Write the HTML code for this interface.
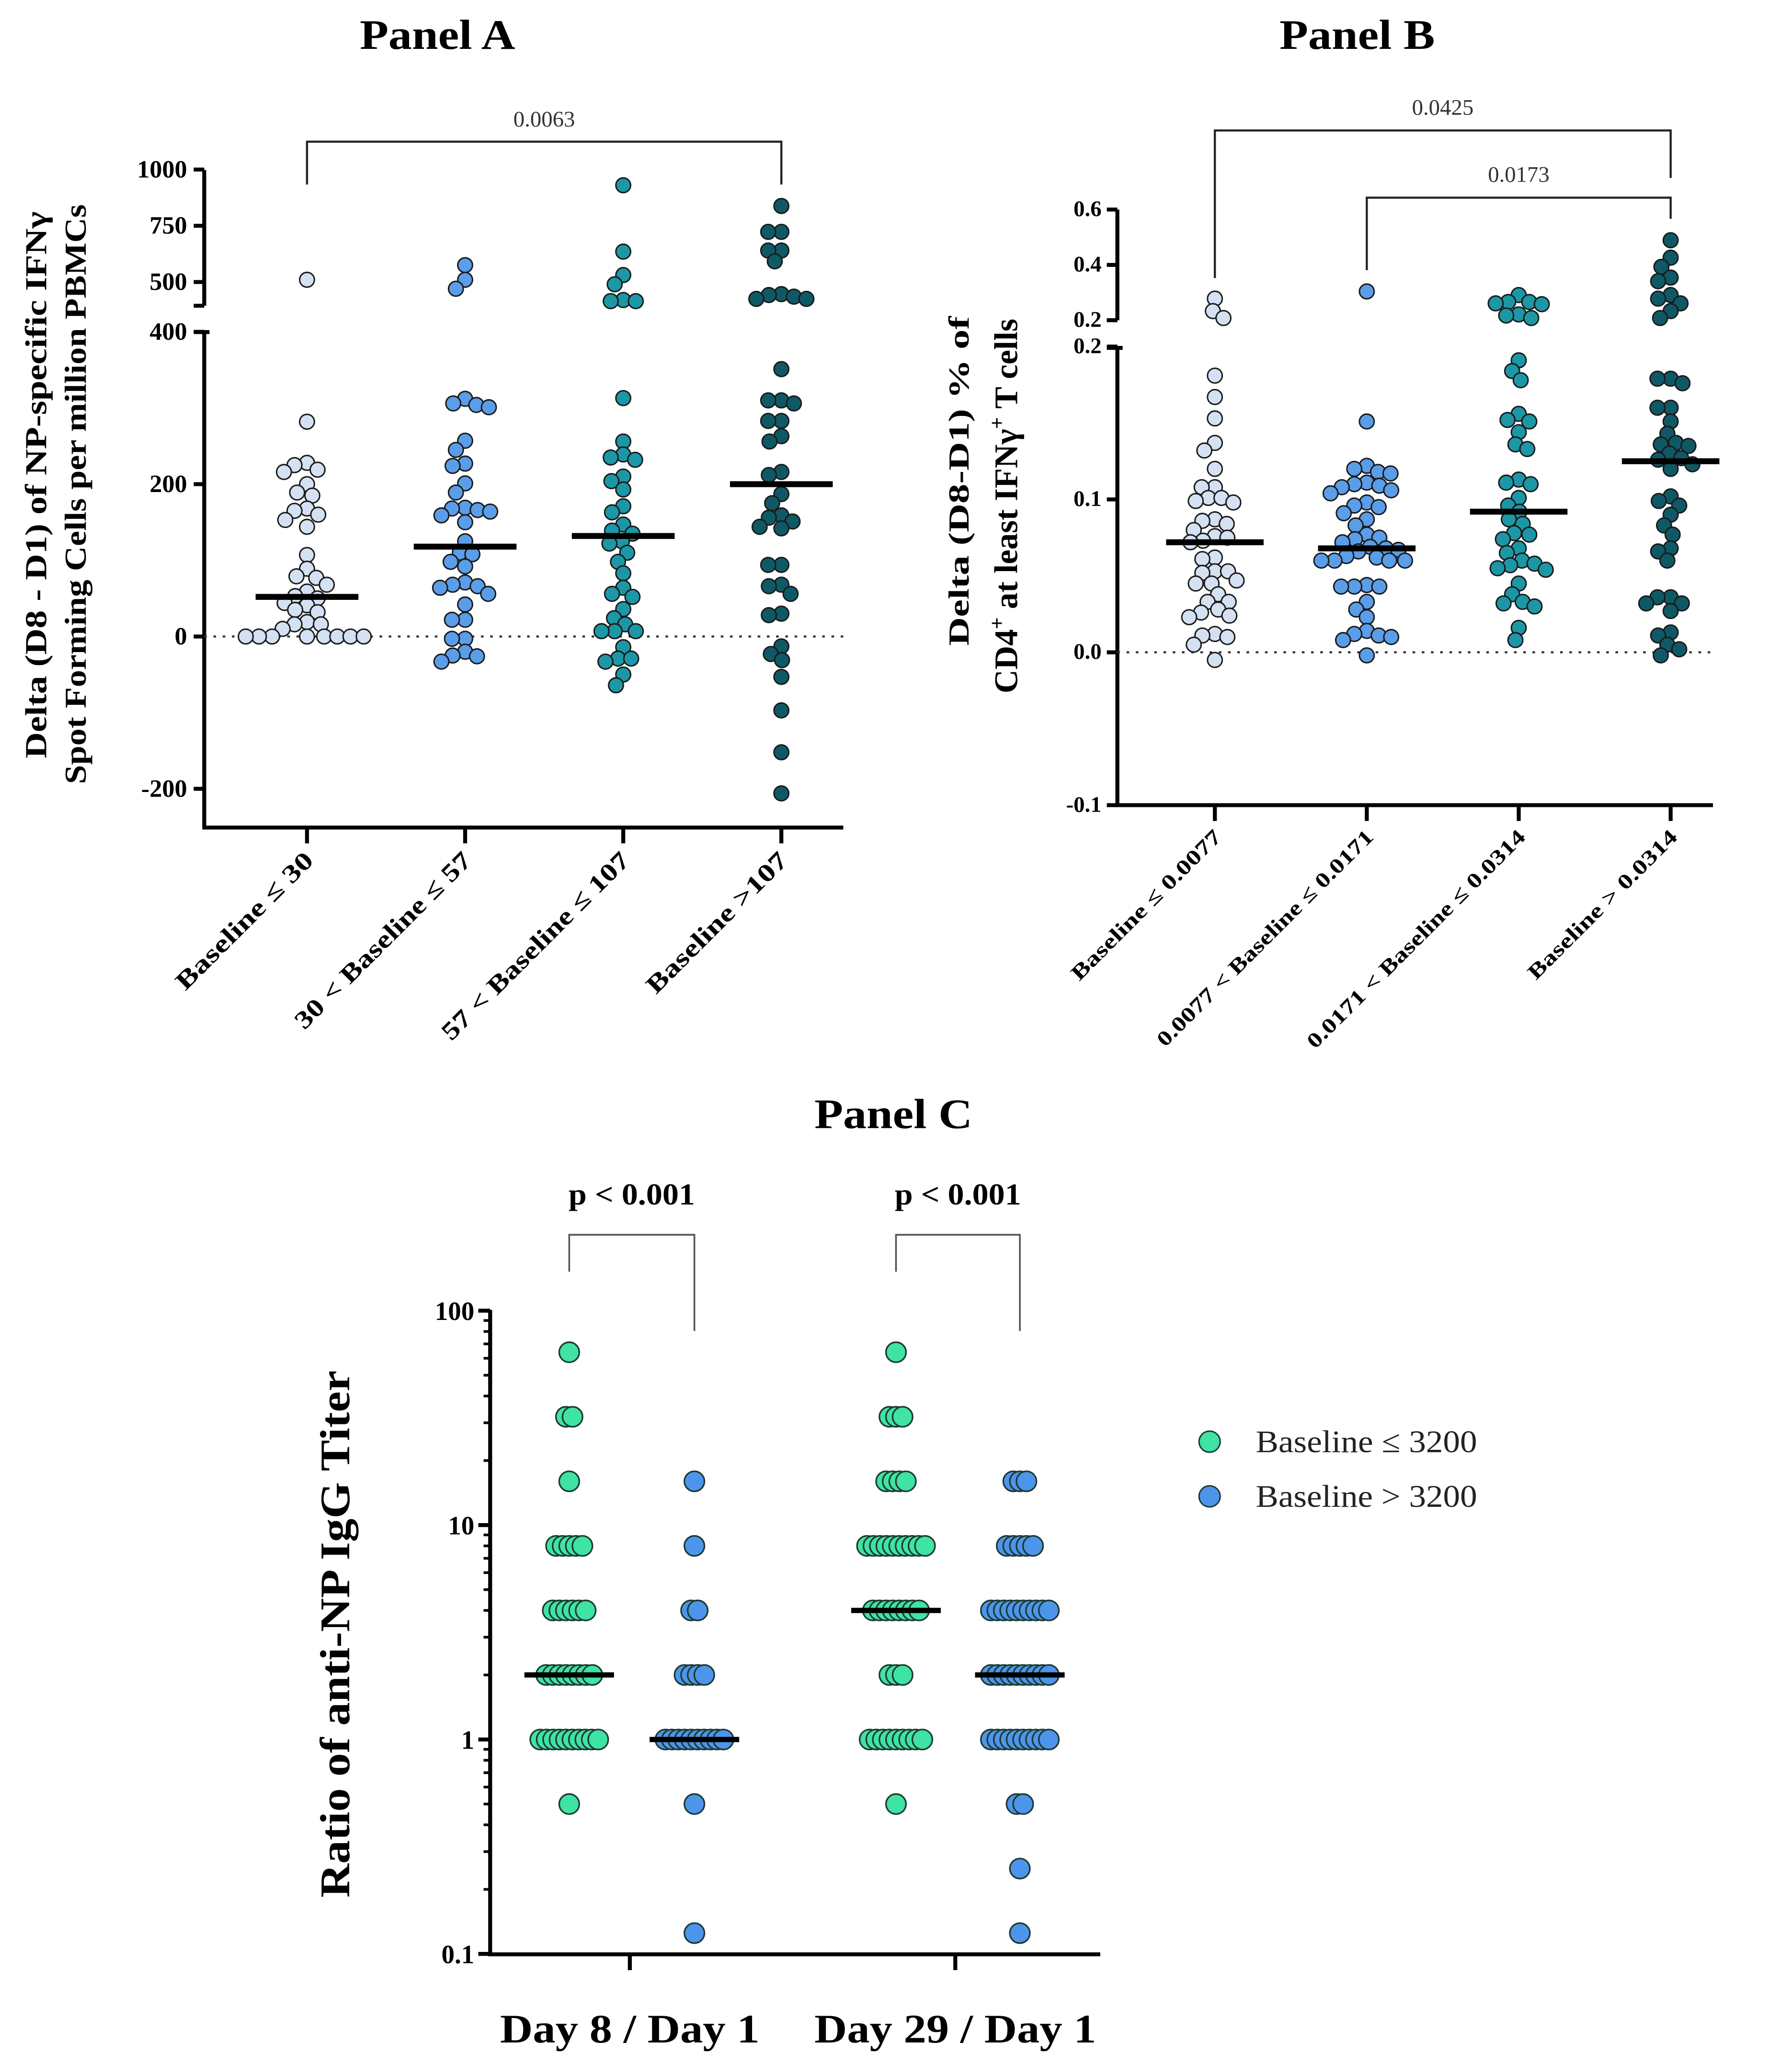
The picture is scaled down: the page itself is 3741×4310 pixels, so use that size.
<!DOCTYPE html>
<html><head><meta charset="utf-8"><style>
html,body{margin:0;padding:0;background:#fff;}
svg{display:block;}
text{font-family:"Liberation Serif",serif;}
</style></head><body>
<svg id="fig" width="3741" height="4310" viewBox="0 0 1360 1567" preserveAspectRatio="none" xmlns="http://www.w3.org/2000/svg">
<rect x="0" y="0" width="1360" height="1567" fill="#fff"/>
<g id="panelA"></g>
<g id="panelB"></g>
<g id="panelC"></g>
</svg>
<script>
// ---------- Panel A data ----------
const catsA = ["Baseline \u2264 30", "30 < Baseline \u2264 57", "57 < Baseline \u2264 107", "Baseline >107"];
const a1 = [510,282,228,225,219,216,200,189,185,168,165,160,153,144,107,89,79,77,68,59,53,50,44,41,35,32,19,16,16,10,0,0,0,0,0,0,0,0];
const a2 = [575,510,470,312,306,304,301,257,245,227,224,201,189,169,168,166,164,159,150,125,110,108,98,92,71,68,66,64,56,42,22,22,-3,-3,-20,-25,-26,-33];
const a3 = [930,635,531,490,420,415,415,313,256,239,235,232,210,204,193,171,163,147,139,135,125,122,110,98,83,64,56,52,36,24,16,7,7,7,-14,-29,-29,-33,-50,-64];
const a4 = [838,723,723,640,640,592,446,442,435,425,425,351,310,310,306,283,283,263,256,216,212,187,175,159,156,151,144,142,94,94,68,66,56,30,28,-13,-23,-31,-53,-97,-152,-206];
const medA = [52,118,132,200];
const ticksALow = [-200,0,200,400];
const ticksAHigh = [500,750,1000];
const pA = ["0.0063"];
// ---------- Panel B data ----------
const catsB = ["Baseline \u2264 0.0077","0.0077 < Baseline \u2264 0.0171","0.0171 < Baseline \u2264 0.0314","Baseline > 0.0314"];
const b1 = [0.278,0.233,0.208,0.181,0.167,0.153,0.137,0.132,0.120,0.108,0.108,0.101,0.101,0.099,0.098,0.087,0.086,0.084,0.080,0.076,0.075,0.073,0.072,0.062,0.061,0.053,0.053,0.052,0.047,0.045,0.045,0.038,0.033,0.033,0.028,0.026,0.024,0.023,0.012,0.011,0.010,0.005,-0.005];
const b2 = [0.304,0.151,0.122,0.120,0.118,0.117,0.111,0.110,0.109,0.108,0.106,0.104,0.098,0.096,0.095,0.091,0.087,0.083,0.077,0.075,0.074,0.072,0.069,0.068,0.067,0.066,0.063,0.062,0.060,0.060,0.060,0.060,0.044,0.043,0.043,0.043,0.033,0.028,0.023,0.014,0.012,0.011,0.010,0.008,-0.002];
const b3 = [0.291,0.266,0.266,0.261,0.258,0.221,0.217,0.208,0.191,0.184,0.178,0.156,0.152,0.151,0.144,0.136,0.133,0.113,0.111,0.110,0.101,0.096,0.092,0.087,0.084,0.078,0.077,0.074,0.068,0.065,0.060,0.058,0.057,0.055,0.054,0.045,0.038,0.033,0.032,0.030,0.016,0.008];
const b4 = [0.489,0.426,0.393,0.354,0.341,0.291,0.278,0.261,0.233,0.208,0.179,0.179,0.176,0.160,0.160,0.151,0.143,0.137,0.136,0.135,0.130,0.127,0.126,0.123,0.120,0.102,0.099,0.096,0.090,0.083,0.077,0.068,0.066,0.060,0.036,0.036,0.032,0.032,0.027,0.013,0.011,0.005,0.002,-0.002];
const medB = [0.072,0.068,0.092,0.125];
const ticksBLow = [-0.1,0.0,0.1,0.2];
const ticksBHigh = [0.2,0.4,0.6];
const pB = ["0.0425","0.0173"];
// ---------- Panel C data ----------
const catsC = ["Day 8 / Day 1","Day 29 / Day 1"];
const cLevels = [64,32,16,8,4,2,1,0.5,0.25,0.125];
const cGreenD8 = [1,2,1,5,6,8,10,1,0,0];
const cBlueD8  = [0,0,1,1,2,4,10,1,0,1];
const cGreenD29= [1,3,4,10,8,3,9,1,0,0];
const cBlueD29 = [0,0,3,5,10,10,10,2,1,1];
const medC = [2,1,4,2];
const ticksC = [0.1,1,10,100];
const legendC = ["Baseline \u2264 3200","Baseline > 3200"];
const pC = ["p < 0.001","p < 0.001"];

const NS="http://www.w3.org/2000/svg";
function mk(parent, tag, attrs, txt){
  const e=document.createElementNS(NS,tag);
  for(const k in attrs) e.setAttribute(k,attrs[k]);
  if(txt!==undefined) e.textContent=txt;
  parent.appendChild(e); return e;
}
function swarm(ys, r){
  const idx=ys.map((y,i)=>i).sort((a,b)=>ys[a]-ys[b]);
  const xs=new Array(ys.length).fill(0); const placed=[]; const d=2*r*0.85;
  for(const i of idx){
    let best=0;
    for(let k=0;k<400;k++){
      const off=(k%2===0?1:-1)*Math.ceil(k/2)*0.5;
      let ok=true;
      for(const j of placed){const dy=ys[i]-ys[j], dx=off-xs[j]; if(dx*dx+dy*dy<d*d){ok=false;break;}}
      if(ok){best=off;break;}
    }
    xs[i]=best; placed.push(i);
  }
  return xs;
}

// ================= PANEL A =================
(function(){
  const g=document.getElementById('panelA');
  const axX=155, x0=155, x1=640, yBot=628;
  const xA=i=>233+i*120;
  const yLow=v=>483 - v*0.578;
  const yHigh=v=>214 - (v-500)*0.1707;
  const yA=v=> v<=394 ? yLow(v) : yHigh(v);
  const t=mk(g,'text',{x:332,y:37,"text-anchor":"middle","font-size":32,"font-weight":"bold",textLength:118,lengthAdjust:"spacingAndGlyphs"},"Panel A");
   
  let ax=mk(g,'path',{d:`M${axX} 129 V232 M${axX-8} 232 H${axX} M${axX-8} 252 H${axX+4} M${axX} 252 V${yBot} H${x1}`,stroke:"#000","stroke-width":3,fill:"none"});
   
  ticksALow.forEach(v=>{const y=yLow(v);mk(g,'line',{x1:axX-8,x2:axX,y1:y,y2:y,stroke:"#000","stroke-width":3});
    const l=mk(g,'text',{x:axX-13,y:y+6,"text-anchor":"end","font-size":19,"font-weight":"bold"},String(v));
     });
  ticksAHigh.forEach(v=>{const y=yHigh(v);mk(g,'line',{x1:axX-8,x2:axX,y1:y,y2:y,stroke:"#000","stroke-width":3});
    const l=mk(g,'text',{x:axX-13,y:y+6,"text-anchor":"end","font-size":19,"font-weight":"bold"},String(v));
     });
  mk(g,'line',{x1:x0,x2:x1,y1:yA(0),y2:yA(0),stroke:"#333","stroke-width":1.6,"stroke-dasharray":"2 5"});
  const yl=mk(g,'text',{transform:"translate(35,368) rotate(-90)","text-anchor":"middle","font-size":23,"font-weight":"bold",textLength:415,lengthAdjust:"spacingAndGlyphs"},"Delta (D8 - D1) of NP-specific IFN\u03b3");
   
  const yl2=mk(g,'text',{transform:"translate(65,375) rotate(-90)","text-anchor":"middle","font-size":23,"font-weight":"bold",textLength:440,lengthAdjust:"spacingAndGlyphs"},"Spot Forming Cells per million PBMCs");
   
  const cols=["#d4e1f2","#5a9de8","#1c97a6","#0f5966"];
  const labLen=[139,181,193,143];
  [a1,a2,a3,a4].forEach((arr,i)=>{
    const cx=xA(i);
    mk(g,'line',{x1:cx,x2:cx,y1:yBot,y2:yBot+12,stroke:"#000","stroke-width":3});
    const lab=mk(g,'text',{transform:`translate(${cx+6},${654}) rotate(-45)`,"text-anchor":"end","font-size":19,"font-weight":"bold",textLength:labLen[i],lengthAdjust:"spacingAndGlyphs"},catsA[i]);
     
    const ys=arr.map(yA); const xs=swarm(ys,5.6);
    ys.forEach((y,k)=>{const c=mk(g,'circle',{cx:cx+xs[k],cy:y,r:5.6,fill:cols[i],stroke:"#1a1a1a","stroke-width":1.1});
       });
    const m=mk(g,'line',{x1:cx-39,x2:cx+39,y1:yA(medA[i]),y2:yA(medA[i]),stroke:"#000","stroke-width":4.5});
     
  });
  const br=mk(g,'path',{d:`M${xA(0)} 140 V107.5 H${xA(3)} V140`,stroke:"#222","stroke-width":1.6,fill:"none"});
   
  const pt=mk(g,'text',{x:(xA(0)+xA(3))/2,y:96,"text-anchor":"middle","font-size":17,fill:"#333"},pA[0]);
   
})();

// ================= PANEL B =================
(function(){
  const g=document.getElementById('panelB');
  const axX=848, x1=1300, yBot=611;
  const xB=i=>922+i*115.3;
  const yLow=v=>495 - v*1160;
  const yHigh=v=>243 - (v-0.2)*210;
  const yB=v=> v<0.2 ? yLow(v) : yHigh(v);
  const t=mk(g,'text',{x:1030,y:37,"text-anchor":"middle","font-size":32,"font-weight":"bold",textLength:118,lengthAdjust:"spacingAndGlyphs"},"Panel B");
   
  const ax=mk(g,'path',{d:`M${axX} 159 V243 M${axX-8} 243 H${axX} M${axX-8} 264 H${axX+4} M${axX} 264 V${yBot} H${x1}`,stroke:"#000","stroke-width":3,fill:"none"});
   
  ticksBLow.forEach(v=>{const y=yLow(v);mk(g,'line',{x1:axX-8,x2:axX,y1:y,y2:y,stroke:"#000","stroke-width":3});
    const l=mk(g,'text',{x:axX-12,y:y+5,"text-anchor":"end","font-size":17,"font-weight":"bold"},v.toFixed(1));
     });
  ticksBHigh.forEach(v=>{const y=yHigh(v);mk(g,'line',{x1:axX-8,x2:axX,y1:y,y2:y,stroke:"#000","stroke-width":3});
    const l=mk(g,'text',{x:axX-12,y:y+5,"text-anchor":"end","font-size":17,"font-weight":"bold"},v.toFixed(1));
     });
  mk(g,'line',{x1:axX,x2:x1,y1:yB(0),y2:yB(0),stroke:"#333","stroke-width":1.6,"stroke-dasharray":"2 5"});
  const yl=mk(g,'text',{transform:"translate(735,365) rotate(-90)","text-anchor":"middle","font-size":22,"font-weight":"bold",textLength:250,lengthAdjust:"spacingAndGlyphs"},"Delta (D8-D1) % of");
   
  const yl2=mk(g,'text',{transform:"translate(772,384) rotate(-90)","text-anchor":"middle","font-size":25,"font-weight":"bold"});
   
  mk(yl2,'tspan',{},"CD4"); mk(yl2,'tspan',{dy:-10,"font-size":16},"+"); mk(yl2,'tspan',{dy:10}," at least IFN\u03b3"); mk(yl2,'tspan',{dy:-10,"font-size":16},"+"); mk(yl2,'tspan',{dy:10}," T cells");
  const cols=["#d4e1f2","#5a9de8","#1c97a6","#0f5966"];
  const labLen=[154,225,227,153];
  [b1,b2,b3,b4].forEach((arr,i)=>{
    const cx=xB(i);
    mk(g,'line',{x1:cx,x2:cx,y1:yBot,y2:yBot+12,stroke:"#000","stroke-width":3});
    const lab=mk(g,'text',{transform:`translate(${cx+6},${636}) rotate(-45)`,"text-anchor":"end","font-size":16,"font-weight":"bold",textLength:labLen[i],lengthAdjust:"spacingAndGlyphs"},catsB[i]);
     
    const ys=arr.map(yB); const xs=swarm(ys,5.6);
    ys.forEach((y,k)=>{const c=mk(g,'circle',{cx:cx+xs[k],cy:y,r:5.6,fill:cols[i],stroke:"#1a1a1a","stroke-width":1.1});
       });
    const m=mk(g,'line',{x1:cx-37,x2:cx+37,y1:yB(medB[i]),y2:yB(medB[i]),stroke:"#000","stroke-width":4.5});
     
  });
  const br1=mk(g,'path',{d:`M${xB(0)} 211 V99 H${xB(3)} V135`,stroke:"#222","stroke-width":1.6,fill:"none"});
   
  const p1=mk(g,'text',{x:(xB(0)+xB(3))/2,y:87,"text-anchor":"middle","font-size":17,fill:"#333"},pB[0]);
   
  const br2=mk(g,'path',{d:`M${xB(1)} 205 V150 H${xB(3)} V166`,stroke:"#222","stroke-width":1.6,fill:"none"});
   
  const p2=mk(g,'text',{x:(xB(1)+xB(3))/2,y:138,"text-anchor":"middle","font-size":17,fill:"#333"},pB[1]);
   
})();

// ================= PANEL C =================
(function(){
  const g=document.getElementById('panelC');
  const axX=372, x1=835, yBot=1483;
  const yC=v=>1320 - Math.log10(v)*162.7;
  const t=mk(g,'text',{x:678,y:856,"text-anchor":"middle","font-size":32,"font-weight":"bold",textLength:120,lengthAdjust:"spacingAndGlyphs"},"Panel C");
   
  const ax=mk(g,'path',{d:`M${axX} 994 V${yBot} H${x1}`,stroke:"#000","stroke-width":3,fill:"none"});
   
  ticksC.forEach((v,i)=>{const y=yC(v);mk(g,'line',{x1:axX-9,x2:axX,y1:y,y2:y,stroke:"#000","stroke-width":3});
    const l=mk(g,'text',{x:axX-12,y:y+7,"text-anchor":"end","font-size":20,"font-weight":"bold"},String(v));
     
    if(i<ticksC.length-1){for(let m=2;m<=9;m++){const ym=yC(v*m);mk(g,'line',{x1:axX-5,x2:axX,y1:ym,y2:ym,stroke:"#000","stroke-width":2});}}
  });
  const yl=mk(g,'text',{transform:"translate(265,1240) rotate(-90)","text-anchor":"middle","font-size":32,"font-weight":"bold",textLength:400,lengthAdjust:"spacingAndGlyphs"},"Ratio of anti-NP IgG Titer");
   
  const groupX=[432,527,680,774];
  const gcol=["#3fe3a3","#4d95ea","#3fe3a3","#4d95ea"];
  const xl=[197,214];
  [478,725].forEach((x,i)=>{mk(g,'line',{x1:x,x2:x,y1:yBot,y2:yBot+12,stroke:"#000","stroke-width":3});
    const l=mk(g,'text',{x:x,y:1550,"text-anchor":"middle","font-size":31,"font-weight":"bold",textLength:xl[i],lengthAdjust:"spacingAndGlyphs"},catsC[i]);
     });
  [cGreenD8,cBlueD8,cGreenD29,cBlueD29].forEach((counts,gi)=>{
    const cx=groupX[gi];
    counts.forEach((n,li)=>{
      if(!n) return;
      const s=n>1?Math.min(5,44/(n-1)):0;
      for(let k=0;k<n;k++){
        const c=mk(g,'circle',{cx:cx+(k-(n-1)/2)*s,cy:yC(cLevels[li]),r:7.6,fill:gcol[gi],stroke:"#1d3a30","stroke-width":1.2});
         
      }
    });
    const m=mk(g,'line',{x1:cx-34,x2:cx+34,y1:yC(medC[gi]),y2:yC(medC[gi]),stroke:"#000","stroke-width":4});
     
  });
  [[0,1],[2,3]].forEach((pr,i)=>{
    const xa=groupX[pr[0]], xb=groupX[pr[1]];
    const b=mk(g,'path',{d:`M${xa} 965 V937 H${xb} V1010`,stroke:"#555","stroke-width":1.3,fill:"none"});
     
    const p=mk(g,'text',{x:(xa+xb)/2,y:914,"text-anchor":"middle","font-size":23,"font-weight":"bold",textLength:96,lengthAdjust:"spacingAndGlyphs"},pC[i]);
     
  });
  legendC.forEach((s,i)=>{
    const y=1094+i*41.5;
    const c=mk(g,'circle',{cx:918,cy:y,r:8,fill:i?"#4d95ea":"#3fe3a3",stroke:"#1d3a30","stroke-width":1.1});
     
    const l=mk(g,'text',{x:953,y:y+8,"font-size":24,fill:"#222",textLength:168,lengthAdjust:"spacingAndGlyphs"},s);
     
  });
})();
</script>
</body></html>
